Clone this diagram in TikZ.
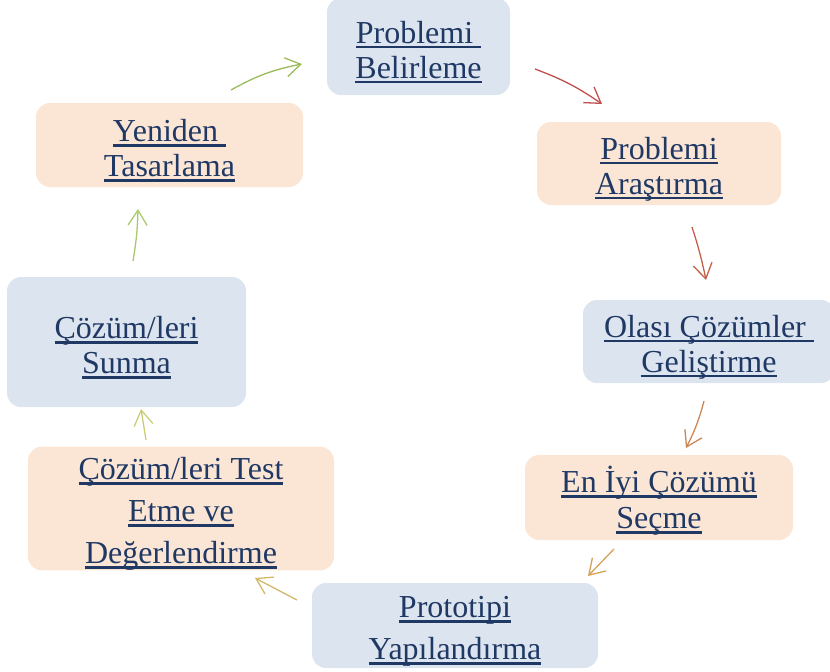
\documentclass[tikz,border=0pt]{standalone}
\usepackage{fontspec}
\setmainfont{Liberation Serif}
\usetikzlibrary{arrows.meta,calc,positioning}

\definecolor{boxblue}{HTML}{DCE4EF}
\definecolor{boxorange}{HTML}{FBE6D6}
\definecolor{textnavy}{HTML}{1F3864}
\definecolor{arrA}{HTML}{9BBB59}
\definecolor{arrB}{HTML}{C0504D}
\definecolor{arrC}{HTML}{C4614A}
\definecolor{arrD}{HTML}{CC8855}
\definecolor{arrE}{HTML}{D6A25A}
\definecolor{arrF}{HTML}{D2B868}
\definecolor{arrG}{HTML}{CCCC77}
\definecolor{arrH}{HTML}{A9CA6A}

% underlined line of text (thick rule, like the original)
\newcommand{\ulline}[1]{\setbox0=\hbox{#1}\rlap{\rule[-5pt]{\wd0}{2.4pt}}\box0}
% invisible strut, pushes the text a little lower in its box
\newcommand{\topstrut}{\rule{0pt}{33pt}}

\begin{document}
\begin{tikzpicture}[x=1pt, y=-1pt,
    stepbase/.style={rounded corners=14pt, text=textnavy, align=center,
        font=\fontsize{32}{35}\selectfont, inner sep=0pt},
    bluebox/.style={stepbase, fill=boxblue},
    orangebox/.style={stepbase, fill=boxorange},
    flow/.style={line width=1.3pt, -{Straight Barb[length=15pt, width=19pt, line width=1.3pt]}}]
    \useasboundingbox (0,0) rectangle (830,672);

    % steps of the cycle (clockwise from the top)
    \node[bluebox, minimum width=183, minimum height=97] (belirle) at (418.5,46.5)
        {\topstrut\ulline{Problemi\ }\\\ulline{Belirleme}};
    \node[orangebox, minimum width=244, minimum height=83] (arastir) at (659,163.5)
        {\topstrut\ulline{Problemi}\\\ulline{Araştırma}};
    \node[bluebox, minimum width=252, minimum height=83] (gelistir) at (709,341.5)
        {\topstrut\ulline{Olası Çözümler\ }\\\ulline{Geliştirme}};
    \node[orangebox, minimum width=268, minimum height=85] (sec) at (659,497.5)
        {\topstrut\ulline{En İyi Çözümü}\\[1pt]\ulline{Seçme}};
    \node[bluebox, minimum width=286, minimum height=85] (prototip) at (455,625.5)
        {\topstrut\ulline{Prototipi}\\[7pt]\ulline{Yapılandırma}};
    \node[orangebox, minimum width=306, minimum height=123] (test) at (181,508.5)
        {\topstrut\ulline{Çözüm/leri Test}\\[7pt]\ulline{Etme ve}\\[7pt]\ulline{Değerlendirme}};
    \node[bluebox, minimum width=239, minimum height=130] (sun) at (126.5,342)
        {\topstrut\ulline{Çözüm/leri}\\\ulline{Sunma}};
    \node[orangebox, minimum width=267, minimum height=84] (yeniden) at (169.5,145)
        {\topstrut\ulline{Yeniden\ }\\\ulline{Tasarlama}};

    % arrow ends
    \coordinate (s1) at (231,90);  \coordinate (e1) at (302,64);
    \coordinate (s2) at (535,69);  \coordinate (e2) at (602,104);
    \coordinate (s3) at (692,227); \coordinate (e3) at (706,280);
    \coordinate (s4) at (704,401); \coordinate (e4) at (686,448);
    \coordinate (s5) at (614,549); \coordinate (e5) at (588,576);
    \coordinate (s6) at (297,600); \coordinate (e6) at (255,578);
    \coordinate (s7) at (146,440); \coordinate (e7) at (141,409);
    \coordinate (s8) at (133,261); \coordinate (e8) at (138,209);

    \foreach \i/\col/\bnd in {1/arrA/9, 2/arrB/7, 3/arrC/3, 4/arrD/6,
                             5/arrE/0, 6/arrF/0, 7/arrG/0, 8/arrH/-4} {
        \draw[flow, \col] (s\i) to[bend left=\bnd] (e\i);
    }
\end{tikzpicture}
\end{document}
